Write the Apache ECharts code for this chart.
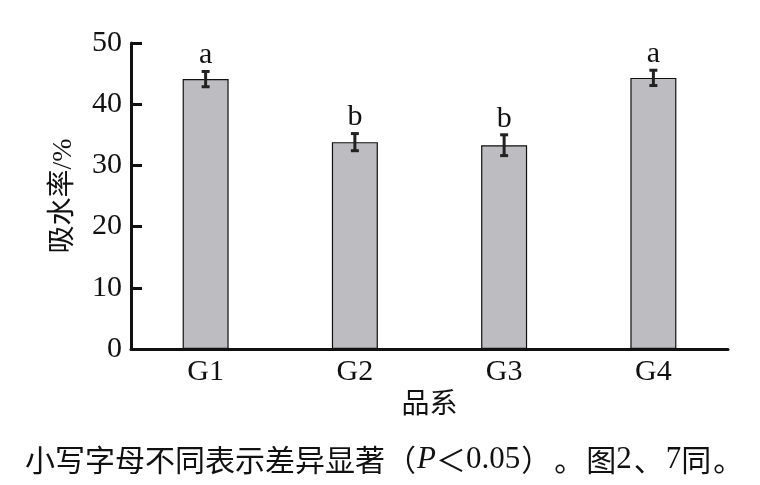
<!DOCTYPE html>
<html><head><meta charset="utf-8">
<script src="https://cdn.jsdelivr.net/npm/echarts@6/dist/echarts.min.js"></script>
<style>html,body{margin:0;padding:0;background:#fff}#c{width:760px;height:485px}</style>
</head><body><div id="c"></div>
<script>
const categories = ['G1', 'G2', 'G3', 'G4'];
const means = [44.1, 33.8, 33.3, 44.3];
const errors = [1.25, 1.4, 1.7, 1.25];
const letters = ['a', 'b', 'b', 'a'];
const yTicks = [0, 10, 20, 30, 40, 50];

const serif = '"Liberation Serif", "Times New Roman", serif';
const cjk = '"Liberation Serif", "Noto Sans CJK SC", serif';
const cjkOnly = '"Noto Sans CJK SC", sans-serif';
const chart = echarts.init(document.getElementById('c'));
const base = { fontFamily: cjkOnly, fontSize: 30, color: '#111', lineHeight: 36 };
chart.setOption({
  animation: false,
  backgroundColor: '#fff',
  grid: { left: 131, right: 32, top: 43, bottom: 136 },
  title: {
    text: '小写字母不同表示差异显著{lp|（}{i|P}＜{n|0.05}{rp|）}{pt|。}图{n|2}{pt|、}{n|7}同{pt|。}',
    left: 20, top: 437,
    textStyle: { fontFamily: cjkOnly, fontSize: 30, fontWeight: 'normal', color: '#111', lineHeight: 36,
      rich: {
        i: { fontFamily: serif, fontStyle: 'italic', fontSize: 31, color: '#111', lineHeight: 36 },
        n: { fontFamily: serif, fontSize: 31, color: '#111', lineHeight: 36 },
        lp: Object.assign({ width: 32, align: 'right' }, base),
        rp: Object.assign({ width: 32, align: 'left' }, base),
        pt: Object.assign({ width: 34, align: 'left' }, base)
      } }
  },
  xAxis: {
    type: 'category', data: categories,
    name: '品系', nameLocation: 'middle', nameGap: 39,
    nameTextStyle: { fontFamily: cjk, fontSize: 28, color: '#111' },
    axisLine: { lineStyle: { color: '#111', width: 3 } },
    axisTick: { inside: true, length: 14, lineStyle: { color: '#111', width: 3 } },
    axisLabel: { fontFamily: serif, fontSize: 30, color: '#111', margin: 8 }
  },
  yAxis: {
    type: 'value', min: yTicks[0], max: yTicks[yTicks.length - 1], interval: 10,
    name: '吸水率/%', nameLocation: 'middle', nameGap: 53,
    nameTextStyle: { fontFamily: cjk, fontSize: 28, color: '#111' },
    splitLine: { show: false },
    axisLine: { show: true, lineStyle: { color: '#111', width: 3 } },
    axisTick: { show: true, inside: true, length: 11, lineStyle: { color: '#111', width: 3 } },
    axisLabel: { fontFamily: serif, fontSize: 30, color: '#111', margin: 9 }
  },
  series: [
    {
      type: 'bar', data: means, barWidth: 46,
      itemStyle: { color: '#bdbdc1', borderColor: '#111', borderWidth: 1.2 }
    },
    {
      type: 'custom',
      data: means.map((m, i) => [i, m - errors[i], m + errors[i]]),
      renderItem: function (params, api) {
        const i = params.dataIndex;
        const lo = api.coord([api.value(0), api.value(1)]);
        const hi = api.coord([api.value(0), api.value(2)]);
        const x = lo[0], hw = 4;
        const st = { stroke: '#222', lineWidth: 3 };
        return {
          type: 'group', children: [
            { type: 'line', shape: { x1: x, y1: lo[1], x2: x, y2: hi[1] }, style: st },
            { type: 'line', shape: { x1: x - hw, y1: lo[1], x2: x + hw, y2: lo[1] }, style: st },
            { type: 'line', shape: { x1: x - hw, y1: hi[1], x2: x + hw, y2: hi[1] }, style: st },
            { type: 'text', style: { text: letters[i], x: x, y: hi[1] - 1, align: 'center', verticalAlign: 'bottom',
              font: '30px ' + serif, fill: '#111' } }
          ]
        };
      },
      z: 10
    }
  ]
});
</script></body></html>
